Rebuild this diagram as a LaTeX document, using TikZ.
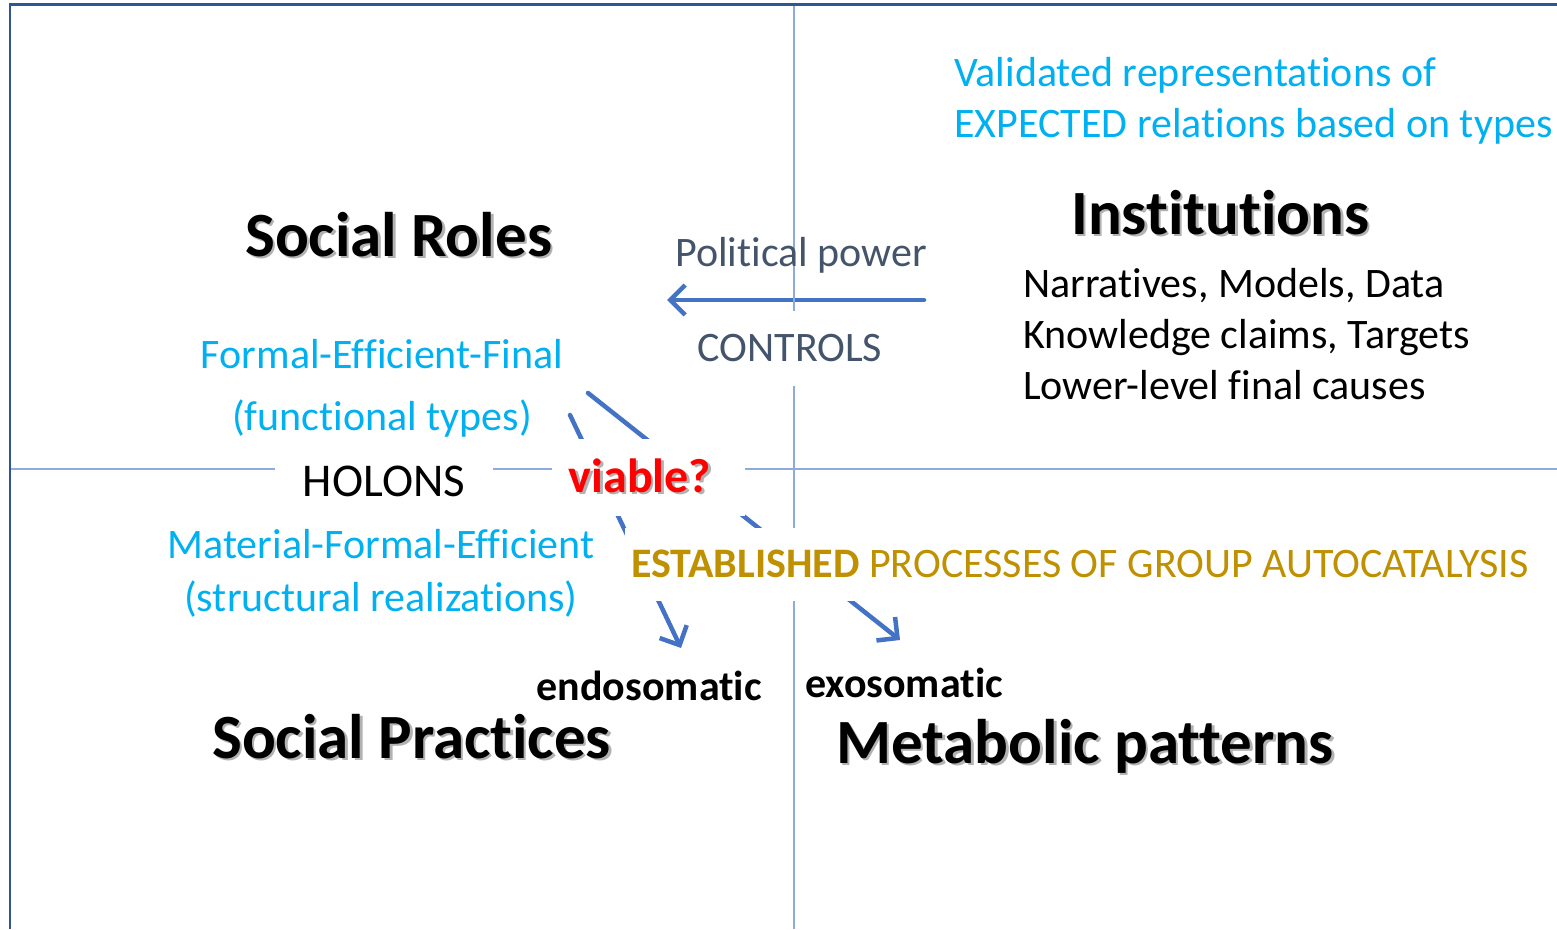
\documentclass[tikz,border=0pt]{standalone}
\usepackage{fontspec}
\setmainfont{Carlito}[Ligatures=NoCommon]
\usepackage{xcolor}
\usetikzlibrary{arrows.meta,backgrounds}
\definecolor{cframe}{HTML}{2F5597}
\definecolor{cquad}{HTML}{8FAADC}
\definecolor{carrow}{HTML}{4472C4}
\definecolor{ctype}{HTML}{00B0F0}
\definecolor{cpower}{HTML}{44546A}
\definecolor{cgold}{HTML}{BF9000}
\newcommand{\shad}[1]{\rlap{\kern2.5pt\raisebox{-2.5pt}{\textcolor{black!30}{#1}}}#1}

\begin{document}
\begin{tikzpicture}[
  x=1pt, y=-1pt,
  txt/.style={font=\fontsize{42}{51}\selectfont, inner sep=0pt},
  ttl/.style={font=\fontsize{63}{70}\selectfont\bfseries, inner sep=0pt},
  typ/.style={txt, text=ctype},
  mask/.style={fill=white, inner sep=0pt},
  quad/.style={cquad, line width=1.5pt},
  ar/.style={carrow, line width=4.5pt, line cap=round, -{Straight Barb[length=15pt, width=30pt]}},
]
\useasboundingbox (0,0) rectangle (1557,929);
\clip (0,0) rectangle (1557,929);

% --- upper right: institutions ---
\node[typ, anchor=base west, align=left] (valid) at (954,137) {Validated representations of\\EXPECTED relations based on types};
\node[ttl, anchor=base west] (inst) at (1071,234) {\shad{Institutions}};
\node[txt, anchor=base west, align=left] (narr) at (1023,399) {Narratives, Models, Data\\Knowledge claims, Targets\\Lower-level final causes};

% --- upper left: social roles ---
\node[ttl, anchor=base west] (roles) at (245,256) {\shad{Social Roles}};
\node[typ, anchor=base, align=center, font=\fontsize{42}{62}\selectfont] (func) at (382,430) {Formal-Efficient-Final\\(functional types)};

% --- control arrow ---
\node[txt, text=cpower, anchor=base west] (pol) at (675,266) {Political power};
\node[txt, text=cpower, mask, minimum height=75pt] (ctrl) at (790,348) {CONTROLS};
\coordinate (pw-a) at (924,300);
\coordinate (pw-b) at (667,300);

% --- holons line ---
\node[mask, minimum width=218pt, minimum height=40pt, font=\fontsize{47}{51}\selectfont] (hol) at (384,481) {HOLONS};
\node[mask, minimum width=193pt, minimum height=77pt, font=\fontsize{48}{51}\selectfont\bfseries, text=red] (via) at (648,477) {\shad{viable?}\kern16pt};

% --- lower half ---
\node[typ, anchor=base, align=center, font=\fontsize{42}{53}\selectfont] (struct) at (381,611) {Material-Formal-Efficient\\(structural realizations)};
\node[txt, text=cgold, mask, minimum height=73pt, inner xsep=6pt] (estab) at (1080,564) {\textbf{ESTABLISHED} PROCESSES OF GROUP AUTOCATALYSIS};
\node[txt, font=\fontsize{42}{51}\selectfont\bfseries, anchor=base east] (endo) at (762,700) {endosomatic};
\node[txt, font=\fontsize{42}{51}\selectfont\bfseries, anchor=base west] (exo) at (805,697) {exosomatic};
\node[ttl, anchor=base west] (prac) at (212,758) {\shad{Social Practices}};
\node[ttl, anchor=base west] (meta) at (836,763) {\shad{Metabolic patterns}};
\coordinate (endo-a) at (570,415);
\coordinate (endo-b) at (681,648);
\coordinate (exo-a) at (588,393);
\coordinate (exo-b) at (900,640);

\begin{scope}[on background layer]
  \draw[ar] (pw-a) -- (pw-b);
  \draw[ar] (endo-a) -- (endo-b);
  \draw[ar] (exo-a) -- (exo-b);
  \draw[quad] (794,4) -- (794,929);
  \draw[quad] (10,469) -- (1557,469);
  \draw[cframe, line width=2.5pt] (10,929) -- (10,4.5) -- (1557,4.5);
\end{scope}
\end{tikzpicture}
\end{document}
